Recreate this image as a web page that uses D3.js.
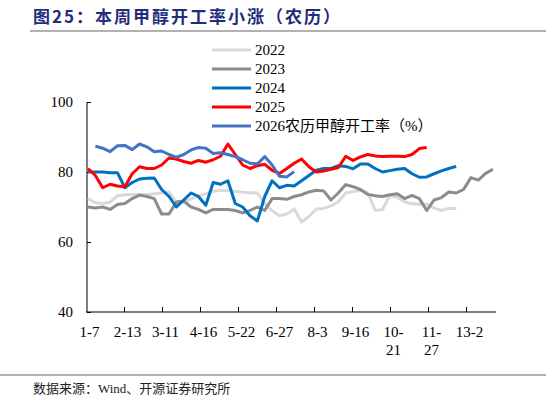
<!DOCTYPE html>
<html><head><meta charset="utf-8">
<script src="https://cdn.jsdelivr.net/npm/d3@7"></script>
<style>body{margin:0;background:#fff}</style></head>
<body><svg id="c" width="546" height="405"></svg>
<script>
const tickLabels = ["1-7","2-13","3-11","4-16","5-22","6-27","8-3","9-16","10-21","11-27","13-2"];
const seriesNames = ["2022","2023","2024","2025","2026农历甲醇开工率（%）"];
const s2022 = [72.4,71.2,71,71.4,73.2,73.5,73.6,73.6,73.6,73.8,74,74.3,71.4,71.4,72.3,73.2,73.8,74.5,74.7,74.7,74.5,74.2,74.1,74,71,68.9,67.5,68,69.4,65.7,67.3,69.4,69.6,70.3,71.5,74,74.4,74.8,74,69,69.3,73.3,72.8,71.5,70.9,70.8,70.8,69.7,69,69.6,69.6];
const s2023 = [70,69.7,70,69.3,70.7,71,72.4,73.4,73,72.4,68,68,71.4,71.7,70,69.3,68.3,69.3,69.3,69.3,69,68.3,69,70,69,72.4,72.4,72.2,73,73.5,74.3,74.8,74.6,72,74,76.4,75.8,75,73.6,73.2,73,73.5,73.8,72.4,73.3,72.4,69,72,72.7,74.3,74,75,78.4,77.7,79.6,80.8];
const s2024 = [80,80,80,79.8,79.8,75.5,77,78,78.2,78.3,75,73,70,72,74,73,70.5,77,76.5,77.5,71,70,67.5,66,73,77.5,75.5,76.2,76,77.5,79,80.5,81,81,81.8,81.6,80.9,82.3,82.3,81,80,80.4,80.8,81,79.5,78.5,78.6,79.5,80.3,81,81.6];
const s2025 = [81,79,75.5,76.5,76,75.8,79.5,81.5,81,81,82,84,83.7,83,82.5,83.3,82.8,83.5,84.5,88,85,82,81,81.8,82.2,80.5,79.6,81,82.5,83.7,81.5,80,80.3,80.8,81.3,84.5,83.3,84.3,85,84.6,84.4,84.5,84.5,84.4,85,86.7,87];
const s2026 = [null,87.4,86.8,85.8,87.5,87.6,86.4,88,87.2,85.8,86,85,84.2,85,86.3,87,86.8,85.3,85.5,85,84.4,83.5,82.5,82.3,84.4,82,78.8,78.6,80.1];
const colors = ["#d9d9d9","#8c8c8c","#0070c0","#ff0000","#4472c4"];
const yTicks = [40,60,80,100];

const svg = d3.select("#c");
const serif = "'Liberation Serif','Noto Sans CJK SC',serif";
const x = d3.scaleLinear().domain([0,55]).range([88,493]);
const xa = d3.scalePoint().domain(tickLabels).range([86,466]);
const y = d3.scaleLinear().domain([40,100]).range([312,102]);

svg.append("text").attr("x",33).attr("y",23).attr("fill","#1f2d7a")
  .attr("font-size",17).attr("font-weight","bold").attr("font-family","'Noto Sans CJK SC',sans-serif")
  .attr("letter-spacing","2px").text("图25：本周甲醇开工率小涨（农历）");
svg.append("line").attr("x1",30).attr("x2",546).attr("y1",31).attr("y2",31).attr("stroke","#666").attr("stroke-width",1.2);
svg.append("line").attr("x1",0).attr("x2",546).attr("y1",375).attr("y2",375).attr("stroke","#999").attr("stroke-width",1.5);
svg.append("text").attr("x",33).attr("y",393).attr("font-size",13).attr("font-family",serif).attr("fill","#222")
  .text("数据来源：Wind、开源证券研究所");

// y axis
const ya = svg.append("g").attr("transform","translate(87,0)")
  .call(d3.axisLeft(y).tickValues(yTicks).tickSize(-4).tickPadding(14));
ya.select(".domain").attr("d","M0,102V312");
ya.selectAll("text").attr("font-size",15).attr("font-family",serif).attr("fill","#000");
// x axis
const xg = svg.append("g").attr("transform","translate(0,312)")
  .call(d3.axisBottom(xa).tickSize(-5).tickPadding(14).tickFormat(""));
xg.select(".domain").attr("d","M86,0H496");
xg.selectAll(".tick line").filter((d,i)=>i===0).remove();
xg.selectAll(".tick").each(function(d){
  const t = d3.select(this).select("text").attr("font-size",15).attr("font-family",serif).attr("fill","#000").attr("x",3);
  const parts = (d==="10-21"||d==="11-27") ? [d.slice(0,3), d.slice(3)] : [d];
  parts.forEach((p,i)=>t.append("tspan").attr("x",3).attr("dy",i?"1.25em":"0.71em").text(p));
});

const line = d3.line().defined(v=>v!==null).x((v,i)=>x(i)).y(v=>y(v));
[s2022,s2023,s2024,s2025,s2026].forEach((s,k)=>{
  svg.append("path").datum(s).attr("d",line).attr("fill","none")
    .attr("stroke",colors[k]).attr("stroke-width",3).attr("stroke-linejoin","round");
});

// legend
const ly = [50,69,88,107,126];
seriesNames.forEach((n,k)=>{
  svg.append("line").attr("x1",212).attr("x2",251).attr("y1",ly[k]).attr("y2",ly[k]).attr("stroke",colors[k]).attr("stroke-width",3);
  svg.append("text").attr("x",255).attr("y",ly[k]+5).attr("font-size",15).attr("font-family",serif).attr("fill","#000").text(n);
});
</script></body></html>
